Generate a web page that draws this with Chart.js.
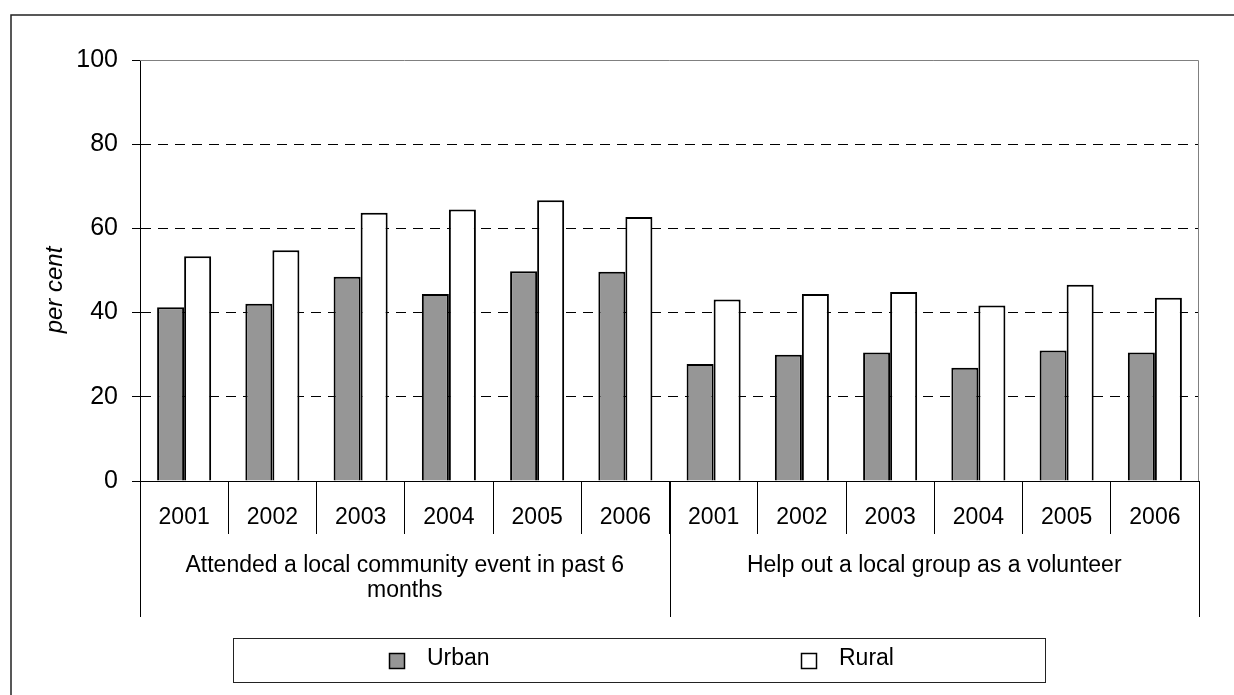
<!DOCTYPE html>
<html>
<head>
<meta charset="utf-8">
<title>Urban / Rural community participation</title>
<script src="https://cdn.jsdelivr.net/npm/chart.js@4.4.1/dist/chart.umd.min.js"></script>
<style>
  html, body { margin: 0; padding: 0; background: #fff; }
  #wrap { position: relative; width: 1234px; height: 695px; }
</style>
</head>
<body>
<div id="wrap"><canvas id="chart" width="1234" height="695"></canvas></div>
<script>
// ---- data ----
const years = ["2001", "2002", "2003", "2004", "2005", "2006",
               "2001", "2002", "2003", "2004", "2005", "2006"];
const groupLabels = [
  ["Attended a local community event in past 6", "months"],
  ["Help out a local group as a volunteer"]
];
const groupSize = 6;
const urban = [41.3, 42.1, 48.5, 44.4, 49.8, 49.7, 27.8, 30.0, 30.5, 26.9, 31.0, 30.5];
const rural = [53.4, 54.8, 63.7, 64.5, 66.7, 62.7, 43.1, 44.4, 44.9, 41.7, 46.6, 43.5];
const yTicks = [0, 20, 40, 60, 80, 100];
const yTitle = "per cent";

const FONT = "'Liberation Sans', Arial, Helvetica, sans-serif";
Chart.defaults.font.family = FONT;
Chart.defaults.color = "#000";

// draws frame, plot border, group labels, axis title and legend box
const overlay = {
  id: "overlay",
  afterDraw(chart) {
    const { ctx, chartArea: a, scales: { x } } = chart;
    ctx.save();

    // outer frame (runs off the right / bottom edge)
    ctx.strokeStyle = "#222";
    ctx.lineWidth = 1.5;
    ctx.strokeRect(11, 15, 1400, 900);

    // top + right border of the plot area
    const r = Math.round(a.right) - 0.5;
    ctx.strokeStyle = "#808080";
    ctx.lineWidth = 1;
    ctx.beginPath();
    ctx.moveTo(a.left, a.top + 0.5);
    ctx.lineTo(r, a.top + 0.5);
    ctx.lineTo(r, a.bottom);
    ctx.stroke();

    // long separators + group labels under the year ticks
    const catW = (x.right - x.left) / years.length;
    const nGroups = years.length / groupSize;
    ctx.strokeStyle = "#000";
    for (let g = 0; g <= nGroups; g++) {
      const bx = Math.round(x.left + g * groupSize * catW) + 0.5;
      ctx.beginPath();
      ctx.moveTo(bx, a.bottom);
      ctx.lineTo(bx, 617);
      ctx.stroke();
    }
    ctx.fillStyle = "#000";
    ctx.font = "23px " + FONT;
    ctx.textAlign = "center";
    ctx.textBaseline = "middle";
    groupLabels.forEach((lines, g) => {
      const cx = x.left + (g + 0.5) * groupSize * catW;
      lines.forEach((t, i) => ctx.fillText(t, cx, 566 + i * 25));
    });

    // y axis title
    ctx.save();
    ctx.translate(55, 290);
    ctx.rotate(-Math.PI / 2);
    ctx.font = "italic 24px " + FONT;
    ctx.fillText(yTitle, 0, 0);
    ctx.restore();

    // legend
    ctx.strokeStyle = "#222";
    ctx.lineWidth = 1;
    ctx.strokeRect(233.5, 638.5, 812, 44);
    const itemX = [389, 801];
    ctx.font = "23px " + FONT;
    ctx.textAlign = "left";
    chart.data.datasets.forEach((ds, i) => {
      ctx.fillStyle = ds.backgroundColor;
      ctx.fillRect(itemX[i] + 0.5, 653.5, 15, 15);
      ctx.strokeStyle = "#000";
      ctx.lineWidth = 1.5;
      ctx.strokeRect(itemX[i] + 0.5, 653.5, 15, 15);
      ctx.fillStyle = "#000";
      ctx.fillText(ds.label, itemX[i] + 38, 659);
    });

    ctx.restore();
  }
};

new Chart(document.getElementById("chart"), {
  type: "bar",
  data: {
    labels: years,
    datasets: [
      {
        label: "Urban",
        data: urban,
        backgroundColor: "#969696",
        borderColor: "#000",
        borderWidth: 2,
        borderSkipped: "start"
      },
      {
        label: "Rural",
        data: rural,
        backgroundColor: "#ffffff",
        borderColor: "#000",
        borderWidth: 2,
        borderSkipped: "start"
      }
    ]
  },
  options: {
    responsive: false,
    animation: false,
    devicePixelRatio: 1,
    categoryPercentage: 0.6125,
    barPercentage: 1.0,
    layout: { padding: { top: 60, right: 35, bottom: 0, left: 0 } },
    plugins: {
      legend: { display: false },
      tooltip: { enabled: false },
      title: { display: false }
    },
    scales: {
      x: {
        grid: {
          offset: true,
          drawOnChartArea: false,
          drawTicks: true,
          tickLength: 53,
          color: "#000",
          tickColor: "#000"
        },
        border: { color: "#000", width: 1 },
        ticks: {
          font: { size: 23 },
          color: "#000",
          padding: -30,
          maxRotation: 0,
          autoSkip: false
        },
        afterFit(s) { s.height = 214; }
      },
      y: {
        min: 0,
        max: 100,
        afterBuildTicks(s) { s.ticks = yTicks.map(v => ({ value: v })); },
        grid: {
          color: c => (c.tick.value === 0 || c.tick.value === 100) ? "rgba(0,0,0,0)" : "#000",
          tickColor: "#000",
          tickLength: 8,
          lineWidth: 1
        },
        border: { color: "#000", width: 1, dash: [10, 7] },
        ticks: {
          font: { size: 25 },
          color: "#000",
          padding: 14
        },
        afterFit(s) { s.width = 140; }
      }
    }
  },
  plugins: [overlay]
});
</script>
</body>
</html>
